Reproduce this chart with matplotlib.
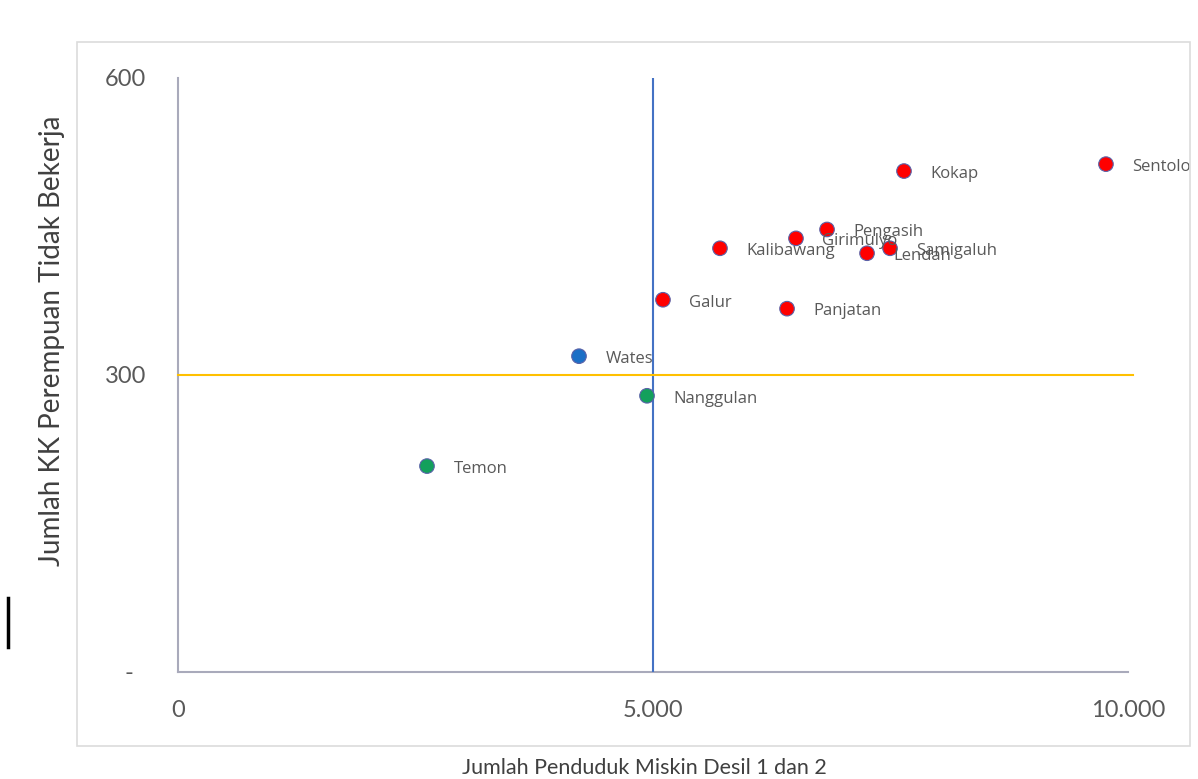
import matplotlib.pyplot as plt
from matplotlib.lines import Line2D
from matplotlib.patches import Rectangle

# Data
kecamatan = ['Temon', 'Wates', 'Nanggulan', 'Galur', 'Kalibawang', 'Panjatan',
             'Girimulyo', 'Pengasih', 'Lendah', 'Samigaluh', 'Kokap', 'Sentolo']
penduduk_miskin = [2621, 4221, 4937, 5105, 5705, 6411, 6505, 6832, 7253, 7495, 7642, 9768]
kk_perempuan = [208, 319, 279, 376, 428, 367, 438, 447, 423, 428, 506, 513]
warna = ['#13A05C', '#1C6FC6', '#13A05C', '#FF0000', '#FF0000', '#FF0000',
         '#FF0000', '#FF0000', '#FF0000', '#FF0000', '#FF0000', '#FF0000']
batas_x = 5000
batas_y = 300

W, H = 1198, 779
fig = plt.figure(figsize=(W / 100, H / 100), dpi=100)
ax = fig.add_axes([178 / W, 1 - 672 / H, 950 / W, 594 / H])

# outer chart frame
fig.add_artist(Rectangle((77 / W, 1 - 746 / H), (1190 - 77) / W, (746 - 42) / H,
                         transform=fig.transFigure, fill=False,
                         edgecolor='#DCDCDC', lw=1.2))
# stray cursor mark on the left
fig.add_artist(Line2D([8 / W, 8 / W], [1 - 598 / H, 1 - 647 / H],
                      transform=fig.transFigure, color='black', lw=2.5))

ax.scatter(penduduk_miskin, kk_perempuan, s=110, c=warna,
           edgecolors='#5A62A8', linewidths=0.8, zorder=4)
for nama, x, y in zip(kecamatan, penduduk_miskin, kk_perempuan):
    ax.annotate(nama, (x, y), xytext=(19, -2), textcoords='offset points',
                va='center', ha='left', fontsize=12, color='#595959',
                family='Open Sans', zorder=5)

# quadrant lines
ax.axvline(batas_x, color='#4472C4', lw=1.5, zorder=3)
ax.plot([0, 10050], [batas_y, batas_y], color='#FFC000', lw=1.5,
        clip_on=False, zorder=3)

ax.set_xlim(0, 10000)
ax.set_ylim(0, 600)
ax.set_xticks([0, 5000, 10000])
ax.set_xticklabels(['0', '5.000', '10.000'])
ax.set_yticks([0, 300, 600])
ax.set_yticklabels(['-  ', '300', '600'])
ax.tick_params(length=0, labelsize=17, labelcolor='#595959')
ax.tick_params(axis='x', pad=20)
ax.tick_params(axis='y', pad=23)
for lab in ax.get_xticklabels() + ax.get_yticklabels():
    lab.set_family('Lato')

for s in ['top', 'right']:
    ax.spines[s].set_visible(False)
for s in ['left', 'bottom']:
    ax.spines[s].set_color('#A9AABB')
    ax.spines[s].set_linewidth(1.5)

fig.text(644 / W, 1 - 768 / H, 'Jumlah Penduduk Miskin Desil 1 dan 2',
         ha='center', va='center', fontsize=15.5, color='#404040', family='Lato')
fig.text(52 / W, 1 - 341 / H, 'Jumlah KK Perempuan Tidak Bekerja',
         ha='center', va='center', rotation=90, fontsize=20, color='#404040',
         family='Lato')

fig.savefig('out.png', dpi=100)
